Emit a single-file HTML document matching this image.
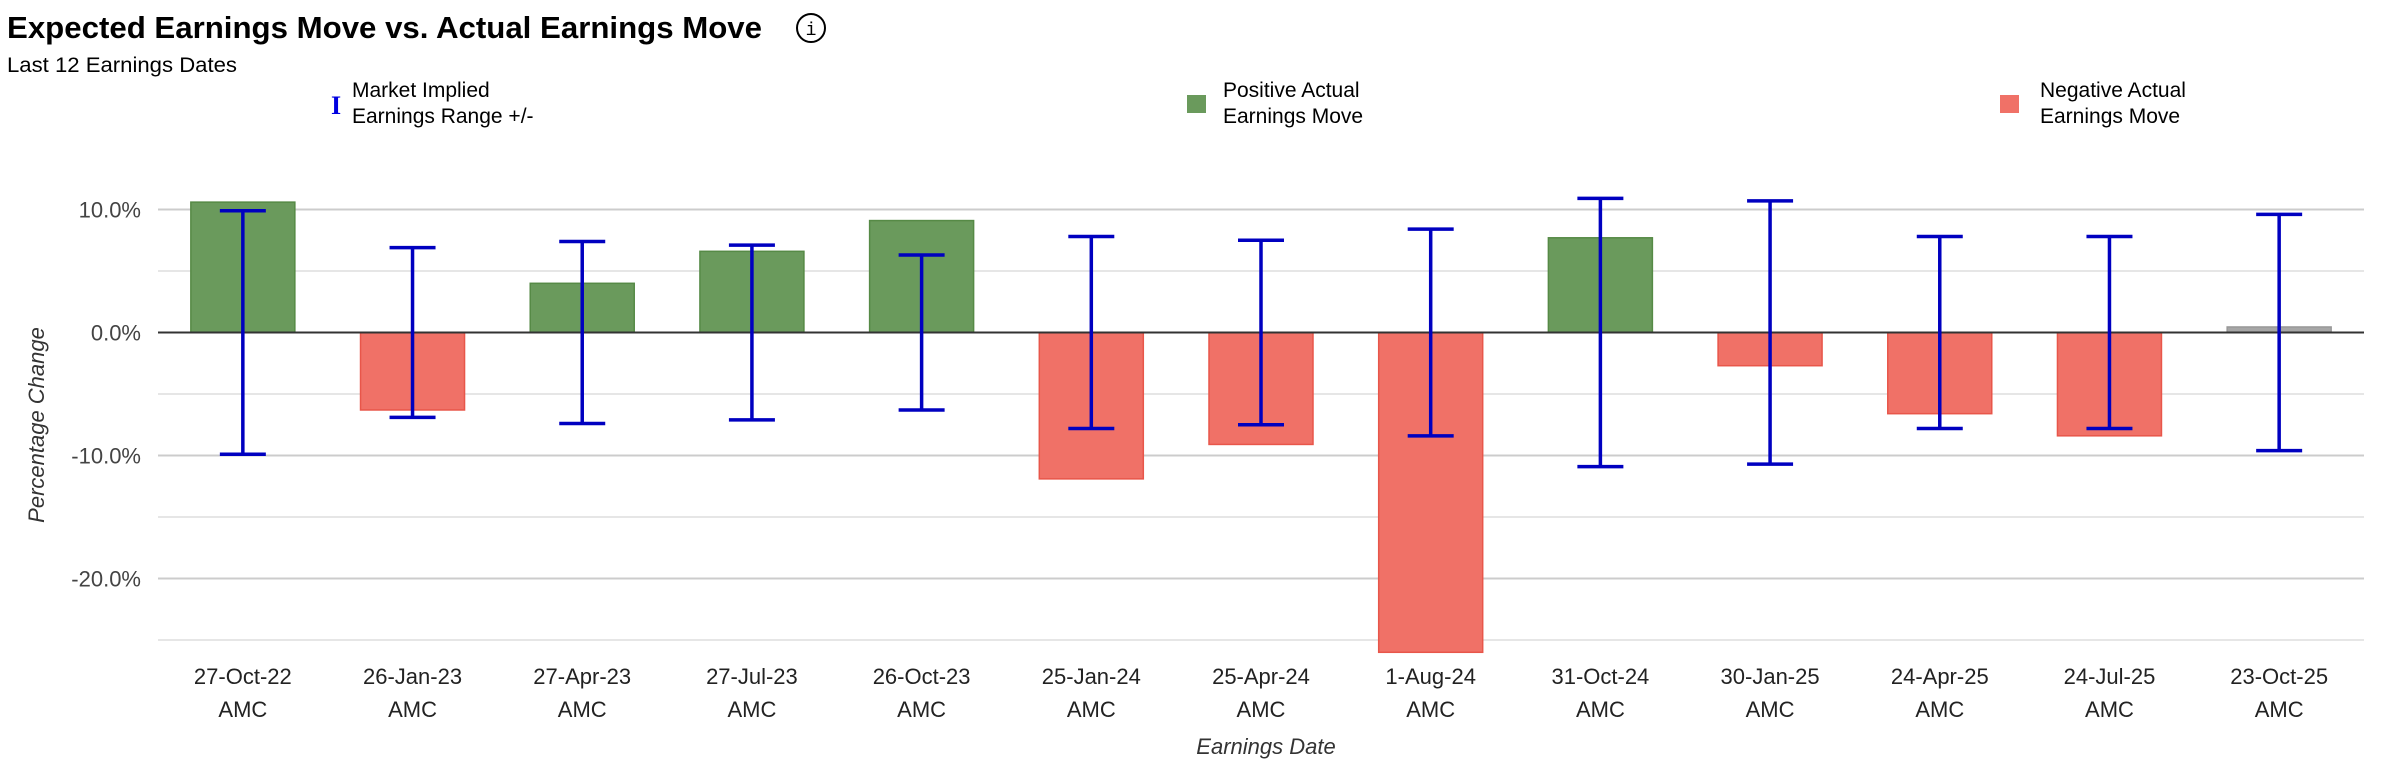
<!DOCTYPE html>
<html><head><meta charset="utf-8">
<style>
body{margin:0;background:#fff;width:2390px;height:770px;overflow:hidden;font-family:"Liberation Sans",sans-serif;}
svg{position:absolute;left:0;top:0}
</style></head>
<body>
<svg id="chart" width="2390" height="770" xmlns="http://www.w3.org/2000/svg">
<text x="7" y="38" font-size="31" font-weight="bold" fill="#000" textLength="755" lengthAdjust="spacingAndGlyphs">Expected Earnings Move vs. Actual Earnings Move</text>
<g>
<circle cx="811" cy="28" r="14" fill="#fff" stroke="#000" stroke-width="2"/>
<text x="811" y="35" font-size="18" text-anchor="middle" font-family="Liberation Mono,monospace" fill="#000">i</text>
</g>
<text x="7" y="72" font-size="21" fill="#000" textLength="230" lengthAdjust="spacingAndGlyphs">Last 12 Earnings Dates</text>
<g>
<text x="331" y="114" font-size="26" font-weight="bold" fill="#0000e0" font-family="Liberation Serif,serif">I</text>
<text x="352" y="97" font-size="21" fill="#000">Market Implied</text>
<text x="352" y="123" font-size="21" fill="#000">Earnings Range +/-</text>
</g>
<g>
<rect x="1187" y="95" width="19" height="18" fill="#6a9a5c"/>
<text x="1223" y="97" font-size="21" fill="#000">Positive Actual</text>
<text x="1223" y="123" font-size="21" fill="#000">Earnings Move</text>
</g>
<g>
<rect x="2000" y="95" width="19" height="18" fill="#f07167"/>
<text x="2040" y="97" font-size="21" fill="#000">Negative Actual</text>
<text x="2040" y="123" font-size="21" fill="#000">Earnings Move</text>
</g>
<g id="grid"></g>
<g id="bars"></g>
<g id="zero"></g>
<g id="errs"></g>
<g id="xlabels"></g>
<text x="1266" y="754" font-size="22" font-style="italic" text-anchor="middle" fill="#333">Earnings Date</text>
<text transform="translate(44,425) rotate(-90)" font-size="22" font-style="italic" text-anchor="middle" fill="#333">Percentage Change</text>
</svg>
<script>
const categories=["27-Oct-22","26-Jan-23","27-Apr-23","27-Jul-23","26-Oct-23","25-Jan-24","25-Apr-24","1-Aug-24","31-Oct-24","30-Jan-25","24-Apr-25","24-Jul-25","23-Oct-25"];
const actualMoves=[10.6,-6.3,4.0,6.6,9.1,-11.9,-9.1,-26.0,7.7,-2.7,-6.6,-8.4,0.45];
const impliedRange=[9.9,6.9,7.4,7.1,6.3,7.8,7.5,8.4,10.9,10.7,7.8,7.8,9.6];
const majorTicks=[10,0,-10,-20];
const majorTickLabels=["10.0%","0.0%","-10.0%","-20.0%"];
const minorTicks=[5,-5,-15,-25];

const NS="http://www.w3.org/2000/svg";
const L=158,R=2364,zeroY=332.5,pxPer=12.3;
const band=(R-L)/categories.length;
function yS(v){return zeroY-v*pxPer;}
function xC(i){return L+band*(i+0.5);}
function mk(tag,attrs,parent){const e=document.createElementNS(NS,tag);for(const k in attrs)e.setAttribute(k,attrs[k]);parent.appendChild(e);return e;}
const grid=document.getElementById('grid'),bars=document.getElementById('bars'),errs=document.getElementById('errs'),xl=document.getElementById('xlabels'),zg=document.getElementById('zero');
minorTicks.forEach(t=>{const l=mk('line',{x1:L,x2:R,y1:yS(t),y2:yS(t),stroke:'#e6e6e6','stroke-width':2},grid);

});
majorTicks.forEach((t,i)=>{if(t!==0){const l=mk('line',{x1:L,x2:R,y1:yS(t),y2:yS(t),stroke:'#cccccc','stroke-width':2},grid);

}
const tx=mk('text',{x:141,y:yS(t)+8,'font-size':22,'text-anchor':'end',fill:'#444'},grid);tx.textContent=majorTickLabels[i];

});
const bw=104;
actualMoves.forEach((v,i)=>{
 const cx=xC(i);let fill,st;
 if(i===actualMoves.length-1){fill='#a6a6a6';st='#999';}
 else if(v>=0){fill='#6a9a5c';st='#568a46';}else{fill='#f07167';st='#e8564a';}
 const y0=Math.min(yS(v),zeroY),h=Math.abs(yS(v)-zeroY);
 const r=mk('rect',{x:cx-bw/2,y:y0,width:bw,height:h,fill:fill,stroke:st,'stroke-width':1.5},bars);
 
 
 const t1=mk('text',{x:cx,y:684,'font-size':22,'text-anchor':'middle',fill:'#222'},xl);t1.textContent=categories[i];
 
 
 const t2=mk('text',{x:cx,y:717,'font-size':22,'text-anchor':'middle',fill:'#222'},xl);t2.textContent='AMC';
 
 
});
const zl=mk('line',{x1:L,x2:R,y1:zeroY,y2:zeroY,stroke:'#333','stroke-width':2},zg);


impliedRange.forEach((r,i)=>{
 const cx=xC(i);const g=mk('g',{stroke:'#0000c0','stroke-width':3.5},errs);
 
 
 mk('line',{x1:cx,x2:cx,y1:yS(r),y2:yS(-r)},g);
 mk('line',{x1:cx-23,x2:cx+23,y1:yS(r),y2:yS(r)},g);
 mk('line',{x1:cx-23,x2:cx+23,y1:yS(-r),y2:yS(-r)},g);
});
</script>
</body></html>
